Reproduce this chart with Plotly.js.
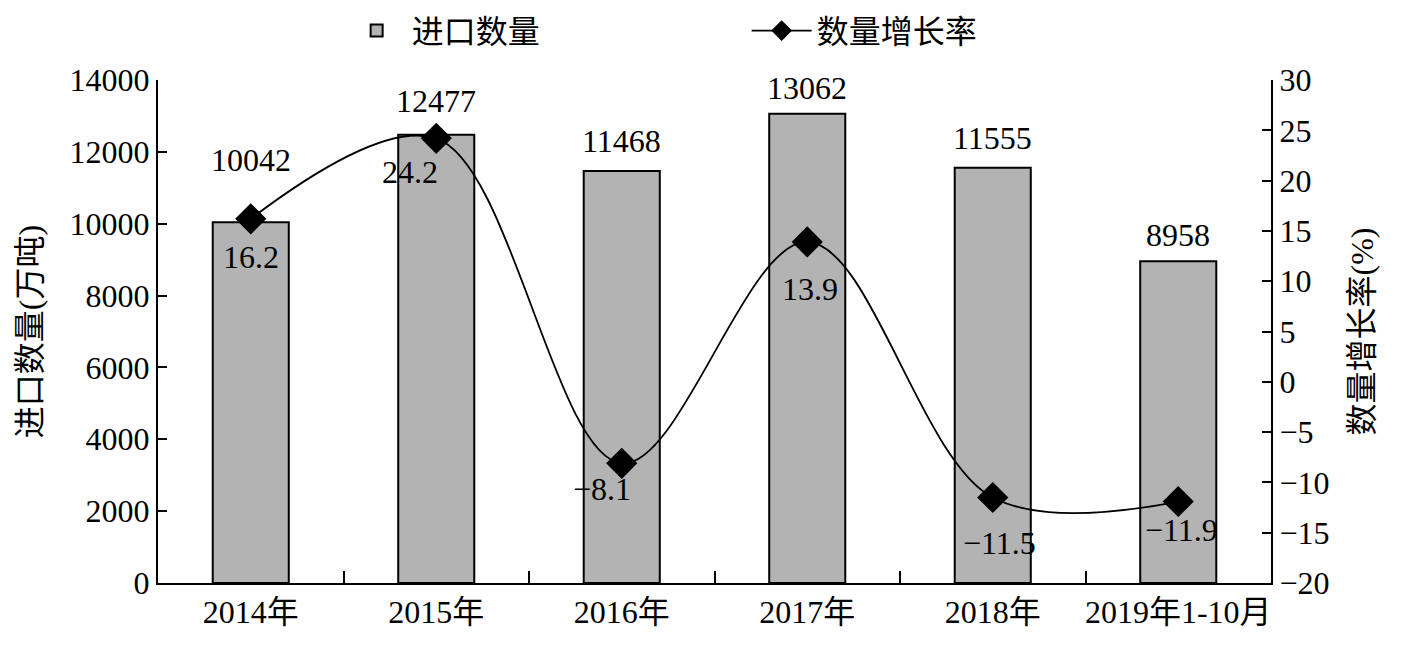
<!DOCTYPE html>
<html><head><meta charset="utf-8">
<script src="https://cdn.plot.ly/plotly-3.0.1.min.js"></script>
<style>html,body{margin:0;padding:0;background:#fff}#c{width:1418px;height:653px}</style>
</head><body><div id="c"></div>
<script>
const categories = ['2014年','2015年','2016年','2017年','2018年','2019年1-10月'];
const importVolume = [10042, 12477, 11468, 13062, 11555, 8958];
const growthRate = [16.2, 24.2, -8.1, 13.9, -11.5, -11.9];
const leftTicks = [0,2000,4000,6000,8000,10000,12000,14000];
const rightTicks = [-20,-15,-10,-5,0,5,10,15,20,25,30];

const FONT = 'Liberation Serif, Times New Roman, Noto Sans CJK SC, serif';
const FS = 32;
const fmtNeg = v => (v < 0 ? '\u2212' + Math.abs(v) : String(v));

const bars = {
  type:'bar', name:'进口数量', x:categories, y:importVolume,
  marker:{color:'#b3b3b3', line:{color:'#000', width:2}},
  width:0.41, yaxis:'y'
};
const line = {
  type:'scatter', mode:'lines+markers', name:'数量增长率', x:categories, y:growthRate,
  line:{color:'#000', width:1.8, shape:'spline', smoothing:1},
  marker:{symbol:'diamond', size:24, color:'#000'}, yaxis:'y2'
};

const barShift = [42, 14, 10, 6, 10, 6];
const annotations = [];
categories.forEach((c,i)=>{
  annotations.push({x:c, y:importVolume[i], xref:'x', yref:'y', text:String(importVolume[i]),
    showarrow:false, yanchor:'bottom', yshift:barShift[i], font:{family:FONT, size:FS, color:'#000'}});
});
const lineOff = [[0,-38],[-26,-34],[-20,-26],[3,-47],[7,-46],[3,-28]];
categories.forEach((c,i)=>{
  annotations.push({x:c, y:growthRate[i], xref:'x', yref:'y2', text:fmtNeg(growthRate[i]),
    showarrow:false, xshift:lineOff[i][0], yshift:lineOff[i][1], font:{family:FONT, size:FS, color:'#000'}});
});

const layout = {
  width:1418, height:653,
  margin:{l:158, r:147, t:80, b:70},
  paper_bgcolor:'#fff', plot_bgcolor:'#fff',
  font:{family:FONT, size:FS, color:'#000'},
  showlegend:true,
  legend:{orientation:'h', x:0.165, xanchor:'left', y:0.995, yanchor:'top', yref:'container',
    font:{family:FONT, size:FS, color:'#000'}, itemwidth:60, entrywidth:330, entrywidthmode:'pixels',
    bgcolor:'rgba(0,0,0,0)'},
  xaxis:{type:'category', showline:true, linecolor:'#000', linewidth:2, ticks:'inside', ticklen:12,
    tickcolor:'#000', tickwidth:2, tickson:'boundaries', showgrid:false, zeroline:false, tickangle:0,
    tickfont:{family:FONT, size:FS}},
  yaxis:{range:[0,14000], tickvals:leftTicks, ticktext:leftTicks.map(String), showline:true, linecolor:'#000',
    linewidth:2, ticks:'inside', ticklen:9, tickcolor:'#000', tickwidth:2, showgrid:false, zeroline:false,
    tickfont:{family:FONT, size:FS},
    title:{text:'进口数量(万吨)', font:{family:FONT, size:FS}, standoff:18}},
  yaxis2:{range:[-20,30], overlaying:'y', side:'right', tickvals:rightTicks, ticktext:rightTicks.map(fmtNeg),
    showline:true, linecolor:'#000', linewidth:2, ticks:'inside', ticklen:9, tickcolor:'#000', tickwidth:2,
    showgrid:false, zeroline:false, tickfont:{family:FONT, size:FS},
    title:{text:'数量增长率(%)', font:{family:FONT, size:FS}, standoff:22}},
  annotations:annotations
};
Plotly.newPlot('c', [bars, line], layout, {displayModeBar:false, staticPlot:true});
</script></body></html>
